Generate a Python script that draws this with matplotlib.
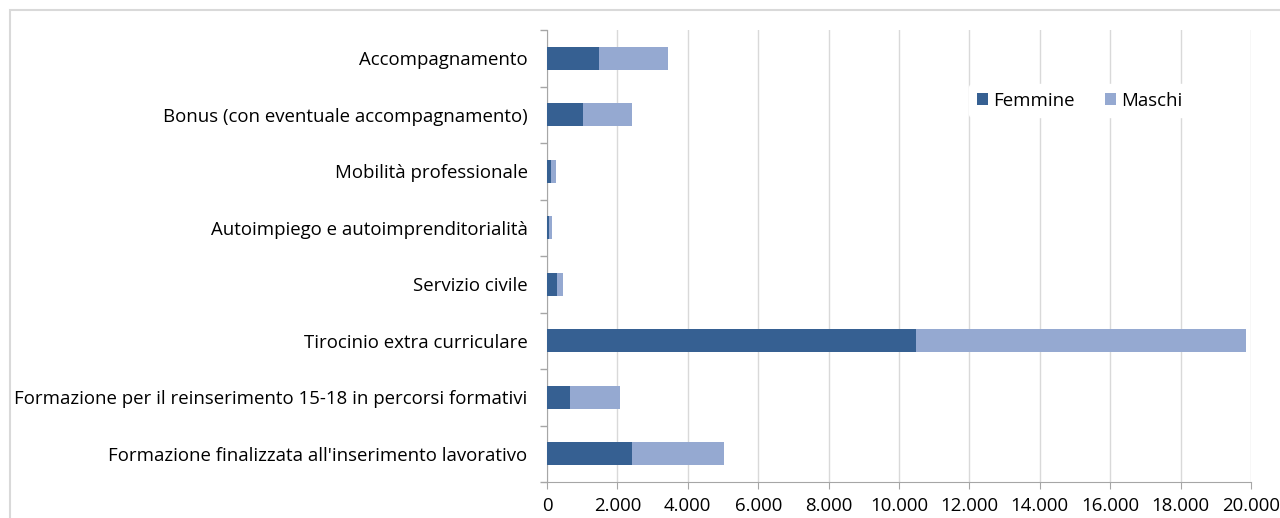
import matplotlib.pyplot as plt
from matplotlib.patches import Rectangle
from matplotlib.ticker import FuncFormatter, MultipleLocator
import numpy as np

# dati (dal basso verso l'alto)
categorie = [
    "Formazione finalizzata all'inserimento lavorativo",
    "Formazione per il reinserimento 15-18 in percorsi formativi",
    "Tirocinio extra curriculare",
    "Servizio civile",
    "Autoimpiego e autoimprenditorialità",
    "Mobilità professionale",
    "Bonus (con eventuale accompagnamento)",
    "Accompagnamento",
]
femmine = [2420, 650, 10480, 285, 60, 120, 1010, 1490]
maschi = [2610, 1430, 9380, 170, 90, 145, 1410, 1960]

col_f = "#366092"
col_m = "#95A9D1"

plt.rcParams['font.family'] = ['Open Sans', 'DejaVu Sans']

fig = plt.figure(figsize=(12.8, 5.18), dpi=100)
ax = fig.add_axes([547 / 1280, 1 - 482 / 518, (1251 - 547) / 1280, (482 - 30) / 518])

# cornice esterna del grafico
fig.patches.append(Rectangle((10 / 1280, -0.1), 1.2, 1 - 10 / 518 + 0.1,
                             transform=fig.transFigure, fill=False,
                             edgecolor="#D9D9D9", linewidth=1.5))

y = np.arange(len(categorie))
ax.barh(y, femmine, height=0.4, color=col_f, label="Femmine", zorder=3)
ax.barh(y, maschi, left=femmine, height=0.4, color=col_m, label="Maschi", zorder=3)

ax.set_xlim(0, 20000)
ax.set_ylim(-0.5, len(categorie) - 0.5)
ax.xaxis.set_major_locator(MultipleLocator(2000))
ax.xaxis.set_major_formatter(FuncFormatter(lambda v, p: f"{int(v):,}".replace(",", ".")))
ax.grid(axis="x", color="#D9D9D9", linewidth=1, zorder=0)

ax.set_yticks(y)
ax.set_yticklabels(categorie)
ax.set_yticks(np.arange(-0.5, len(categorie)), minor=True)
ax.tick_params(axis="y", which="major", length=0, pad=14, labelsize=13.4)
ax.tick_params(axis="y", which="minor", length=5, color="#A6A6A6", width=1)
ax.tick_params(axis="x", length=5, color="#A6A6A6", labelsize=13.4, pad=6)

for s in ["top", "right"]:
    ax.spines[s].set_visible(False)
for s in ["left", "bottom"]:
    ax.spines[s].set_color("#A6A6A6")

ax.legend(loc="upper left", bbox_to_anchor=(0.6, 0.88), ncol=2, frameon=True,
          facecolor="white", edgecolor="white", framealpha=1,
          fontsize=13.4, handlelength=0.6, handleheight=0.6, columnspacing=1.6,
          handletextpad=0.3, borderaxespad=0)

fig.savefig("out.png", dpi=100)
